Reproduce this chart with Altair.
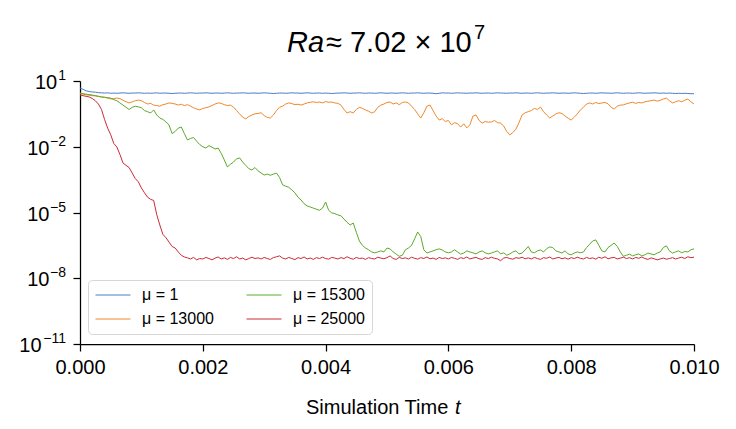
import altair as alt
import pandas as pd

FONT = "Liberation Sans"

# sampling times of the recorded energy history
t = [round(i * 0.00005, 5) for i in range(201)]

series_names = ["μ = 1", "μ = 13000", "μ = 15300", "μ = 25000"]
series_colors = ["#4a7cc8", "#f0882a", "#5aaa2a", "#cc2a36"]

x_ticks = [0.0, 0.002, 0.004, 0.006, 0.008, 0.010]
y_ticks = [1e1, 1e-2, 1e-5, 1e-8, 1e-11]
y_exponents = ["1", "−2", "−5", "−8", "−11"]

# log10 of the monitored quantity for each viscosity
log_mu1 = [
    0.68, 0.62, 0.55, 0.52, 0.50, 0.49, 0.47, 0.46, 0.45, 0.46, 0.44, 0.45, 0.44, 0.45, 0.46, 0.45, 0.44, 0.45, 0.45, 0.46,
    0.45, 0.44, 0.45, 0.44, 0.45, 0.46, 0.44, 0.45, 0.45, 0.44, 0.43, 0.44, 0.45, 0.45, 0.44, 0.45, 0.46, 0.45, 0.44, 0.45,
    0.45, 0.46, 0.45, 0.44, 0.45, 0.45, 0.44, 0.45, 0.46, 0.45, 0.44, 0.45, 0.45, 0.46, 0.45, 0.44, 0.45, 0.45, 0.44, 0.45,
    0.46, 0.45, 0.44, 0.43, 0.44, 0.45, 0.45, 0.44, 0.45, 0.46, 0.45, 0.45, 0.44, 0.45, 0.46, 0.45, 0.44, 0.45, 0.45, 0.44,
    0.45, 0.44, 0.43, 0.44, 0.45, 0.45, 0.46, 0.45, 0.44, 0.45, 0.45, 0.46, 0.45, 0.44, 0.45, 0.45, 0.44, 0.45, 0.46, 0.45,
    0.44, 0.45, 0.45, 0.44, 0.45, 0.46, 0.45, 0.44, 0.45, 0.45, 0.46, 0.45, 0.44, 0.45, 0.45, 0.44, 0.42, 0.44, 0.46, 0.45,
    0.45, 0.44, 0.45, 0.46, 0.45, 0.45, 0.44, 0.45, 0.45, 0.46, 0.45, 0.44, 0.45, 0.45, 0.44, 0.45, 0.46, 0.45, 0.45, 0.44,
    0.45, 0.45, 0.46, 0.45, 0.44, 0.45, 0.45, 0.44, 0.45, 0.46, 0.45, 0.44, 0.45, 0.45, 0.46, 0.45, 0.44, 0.45, 0.45, 0.44,
    0.45, 0.46, 0.45, 0.44, 0.43, 0.44, 0.45, 0.45, 0.44, 0.45, 0.46, 0.45, 0.45, 0.44, 0.45, 0.46, 0.45, 0.44, 0.45, 0.45,
    0.44, 0.45, 0.46, 0.45, 0.44, 0.45, 0.45, 0.46, 0.45, 0.44, 0.45, 0.44, 0.45, 0.44, 0.43, 0.44, 0.43, 0.44, 0.43, 0.42,
    0.42,
]

log_mu13000 = [
    0.42, 0.40, 0.37, 0.35, 0.33, 0.32, 0.30, 0.27, 0.25, 0.22,
    0.18, 0.20, 0.22, 0.20, 0.12, 0.05, 0.00, 0.05, 0.10, 0.13,
    0.10, 0.02, -0.05, -0.02, -0.10, -0.12, -0.15, -0.08, -0.05, 0.00,
    -0.02, -0.05, -0.10, -0.06, -0.12, -0.08, -0.15, -0.22, -0.28, -0.32,
    -0.25, -0.22, -0.18, -0.12, -0.05, 0.00, -0.02, -0.08, -0.12, -0.10,
    -0.19, -0.35, -0.50, -0.65, -0.73, -0.62, -0.55, -0.50, -0.48, -0.45,
    -0.58, -0.66, -0.69, -0.55, -0.35, -0.20, -0.15, -0.05, 0.00, -0.03,
    -0.08, -0.06, -0.10, -0.05, 0.00, 0.03, 0.05, 0.02, 0.04, 0.00,
    0.06, 0.03, 0.04, 0.00, -0.02, -0.10, -0.30, -0.46, -0.40, -0.46,
    -0.30, -0.20, -0.25, -0.32, -0.38, -0.46, -0.40, -0.20, -0.10, -0.05,
    0.02, 0.04, -0.05, 0.00, -0.08, 0.02, 0.04, 0.00, -0.15, -0.30,
    -0.50, -0.69, -0.45, -0.15, -0.10, -0.35, -0.60, -0.78, -0.72, -0.85,
    -0.80, -1.00, -0.90, -0.95, -1.10, -0.95, -1.14, -1.00, -0.60, -0.55,
    -0.80, -0.92, -0.85, -0.88, -0.87, -0.80, -0.90, -0.92, -1.05, -1.30,
    -1.46, -1.35, -1.20, -0.90, -0.55, -0.45, -0.40, -0.35, -0.25, -0.30,
    -0.19, -0.40, -0.55, -0.69, -0.60, -0.50, -0.45, -0.48, -0.60, -0.70,
    -0.78, -0.65, -0.50, -0.32, -0.20, -0.05, 0.00, -0.05, 0.02, -0.03,
    0.00, 0.02, -0.04, -0.20, -0.28, -0.15, -0.10, -0.09, -0.04, 0.00,
    0.03, -0.02, 0.02, 0.00, 0.05, 0.08, 0.10, 0.13, 0.08, 0.12,
    0.18, 0.22, 0.10, 0.00, 0.05, 0.10, 0.05, 0.12, 0.18, 0.05,
    -0.05,
]

log_mu15300 = [
    0.45, 0.42, 0.40, 0.38, 0.36, 0.33, 0.30, 0.27, 0.26, 0.24,
    0.22, 0.15, 0.10, 0.00, -0.10, -0.20, -0.30, -0.20, -0.15, -0.18,
    -0.22, -0.35, -0.40, -0.46, -0.32, -0.55, -0.69, -0.75, -0.87, -1.00,
    -1.40, -1.30, -1.15, -1.10, -1.40, -1.69, -1.62, -1.58, -1.75, -1.90,
    -2.00, -2.06, -1.95, -2.02, -2.10, -2.06, -2.30, -2.60, -2.92, -2.80,
    -2.70, -2.55, -2.51, -2.70, -2.85, -3.00, -3.06, -2.95, -3.10, -3.20,
    -3.29, -3.25, -3.30, -3.25, -3.20, -3.40, -3.74, -3.80, -3.85, -3.97,
    -4.10, -4.30, -4.43, -4.60, -4.70, -4.75, -4.80, -4.85, -4.90, -4.80,
    -4.52, -4.90, -5.02, -5.05, -5.11, -5.15, -5.30, -5.45, -5.57, -5.48,
    -5.90, -6.30, -6.50, -6.62, -6.70, -6.80, -6.84, -6.80, -6.75, -6.80,
    -6.62, -6.66, -6.80, -6.90, -7.00, -6.95, -6.70, -6.62, -6.50, -6.20,
    -5.89, -6.10, -6.70, -6.85, -6.80, -6.75, -6.70, -6.66, -6.71, -6.80,
    -6.84, -6.80, -6.70, -6.80, -6.90, -6.85, -6.75, -6.80, -6.84, -6.89,
    -6.80, -6.75, -6.84, -6.89, -6.85, -6.80, -6.75, -6.89, -6.84, -6.95,
    -6.89, -6.80, -6.75, -6.89, -6.85, -6.71, -6.55, -6.80, -6.84, -6.75,
    -6.71, -6.80, -6.65, -6.57, -6.60, -6.75, -6.80, -6.85, -6.75, -6.89,
    -6.93, -6.85, -6.80, -6.84, -6.80, -6.60, -6.45, -6.30, -6.25, -6.50,
    -6.75, -6.80, -6.60, -6.50, -6.39, -6.55, -6.80, -7.00, -6.95, -6.90,
    -6.98, -6.93, -6.89, -6.98, -6.93, -6.85, -6.89, -6.93, -6.85, -6.80,
    -6.60, -6.52, -6.75, -6.85, -6.80, -6.75, -6.84, -6.78, -6.80, -6.70,
    -6.66,
]

log_mu25000 = [
    0.36, 0.33, 0.30, 0.27, 0.20, 0.10, -0.05, -0.30, -0.75, -1.15,
    -1.45, -1.85, -2.01, -2.35, -2.74, -2.85, -2.95, -3.20, -3.45, -3.60,
    -3.88, -4.10, -4.30, -4.40, -4.45, -5.10, -5.57, -6.00, -6.15, -6.35,
    -6.55, -6.62, -6.80, -6.95, -7.03, -7.07, -7.12, -7.05, -7.16, -7.10,
    -7.12, -7.05, -7.10, -7.16, -7.08, -7.03, -7.12, -7.07, -7.14, -7.05,
    -7.10, -7.02, -7.12, -7.08, -7.16, -7.10, -7.04, -7.10, -7.07, -7.12,
    -7.05, -7.10, -7.14, -7.06, -7.02, -6.98, -7.08, -7.12, -7.05, -7.10,
    -7.15, -7.06, -7.10, -7.03, -7.12, -7.08, -7.14, -7.06, -7.10, -7.04,
    -7.10, -7.13, -7.05, -7.08, -7.12, -7.06, -7.10, -7.02, -7.09, -7.13,
    -7.05, -7.10, -7.08, -7.14, -7.06, -7.10, -7.12, -7.04, -7.08, -7.11,
    -7.06, -6.98, -7.10, -7.14, -7.05, -7.10, -7.07, -7.12, -7.04, -7.09,
    -7.13, -7.06, -7.10, -7.03, -7.11, -7.08, -7.14, -7.05, -7.10, -7.07,
    -7.12, -7.05, -7.09, -7.14, -7.06, -7.10, -7.03, -7.12, -7.08, -7.05,
    -7.11, -7.14, -7.06, -7.10, -7.04, -7.09, -7.12, -7.20, -7.08, -7.05,
    -7.10, -7.13, -7.06, -7.09, -7.04, -7.11, -7.07, -7.12, -7.05, -7.10,
    -7.14, -7.06, -7.09, -7.03, -7.12, -7.08, -7.05, -7.11, -7.07, -7.13,
    -7.06, -7.10, -7.04, -7.09, -7.12, -7.05, -7.10, -7.07, -7.13, -7.04,
    -7.09, -7.02, -7.11, -7.07, -7.05, -7.12, -7.08, -7.04, -7.10, -7.06,
    -7.12, -7.05, -7.09, -7.03, -7.10, -7.14, -7.07, -7.11, -7.16, -7.12,
    -7.08, -7.13, -7.10, -7.06, -7.12, -7.08, -7.04, -7.10, -7.02, -7.06,
    -7.04,
]

rows = []
for name, logs in zip(series_names, [log_mu1, log_mu13000, log_mu15300, log_mu25000]):
    for ti, lg in zip(t, logs):
        rows.append({"t": ti, "series": name, "lg": lg})
df = pd.DataFrame(rows)

y_scale = alt.Scale(type="log", domain=[1e-11, 10], nice=False)

lines = (
    alt.Chart(df)
    .transform_calculate(value="pow(10, datum.lg)")
    .mark_line(strokeWidth=1, clip=True)
    .encode(
        x=alt.X(
            "t:Q",
            scale=alt.Scale(domain=[0, 0.01], nice=False, zero=False),
            axis=alt.Axis(values=x_ticks, format=".3f", title=None, labelFlush=False,
                          labelPadding=6),
        ),
        y=alt.Y(
            "value:Q",
            scale=y_scale,
            axis=alt.Axis(values=y_ticks, labels=False, title=None),
        ),
        color=alt.Color(
            "series:N",
            scale=alt.Scale(domain=series_names, range=series_colors),
            legend=alt.Legend(
                title=None, orient="none", legendX=8, legendY=199, columns=2,
                symbolType="M-2.5,0H2.5", symbolSize=196, symbolOffset=10,
                symbolStrokeWidth=1, labelFontSize=16, labelFont=FONT,
                labelColor="black", labelOffset=21, columnPadding=30, rowPadding=8,
                padding=7, fillColor="white", strokeColor="#d6d6d6", cornerRadius=4,
            ),
        ),
    )
)

# y tick labels drawn as a base "10" with a raised exponent
tick_df = pd.DataFrame({"v": y_ticks, "exp": y_exponents})

y_exp_text = (
    alt.Chart(tick_df)
    .mark_text(font=FONT, fontSize=14, align="right", baseline="alphabetic",
               color="black", dy=-1)
    .encode(x=alt.value(-14), y=alt.Y("v:Q", scale=y_scale), text="exp:N")
)

y_base_text = (
    alt.Chart(tick_df)
    .transform_calculate(xp="-15 - 7.8 * length(datum.exp)")
    .mark_text(font=FONT, fontSize=20, align="right", baseline="alphabetic",
               color="black", dy=8, text="10")
    .encode(x=alt.X("xp:Q", scale=None), y=alt.Y("v:Q", scale=y_scale))
)

one = pd.DataFrame({"k": [0]})

title_ra = alt.Chart(one).mark_text(
    text="Ra", font=FONT, fontSize=29, fontStyle="italic", align="left",
    baseline="alphabetic", color="black",
).encode(x=alt.value(207), y=alt.value(-29))

title_rest = alt.Chart(one).mark_text(
    text="≈ 7.02 × 10", font=FONT, fontSize=29, align="left",
    baseline="alphabetic", color="black",
).encode(x=alt.value(246), y=alt.value(-29))

title_exp = alt.Chart(one).mark_text(
    text="7", font=FONT, fontSize=20, align="left",
    baseline="alphabetic", color="black",
).encode(x=alt.value(394), y=alt.value(-42))

xtitle_main = alt.Chart(one).mark_text(
    text="Simulation Time", font=FONT, fontSize=20, align="left",
    baseline="alphabetic", color="black",
).encode(x=alt.value(226), y=alt.value(333))

xtitle_var = alt.Chart(one).mark_text(
    text="t", font=FONT, fontSize=20, fontStyle="italic", align="left",
    baseline="alphabetic", color="black",
).encode(x=alt.value(375), y=alt.value(333))

chart = (
    alt.layer(lines, y_exp_text, y_base_text, title_ra, title_rest, title_exp,
              xtitle_main, xtitle_var)
    .properties(
        width=614, height=263,
        autosize=alt.AutoSizeParams(type="none"),
        padding={"left": 80, "top": 81, "right": 42, "bottom": 85},
        background="white",
    )
    .configure_view(stroke=None)
    .configure_axis(
        grid=False, domainColor="black", domainWidth=1.25, tickColor="black",
        tickWidth=1.25, tickSize=7, labelFont=FONT, labelFontSize=20,
        labelColor="black",
    )
)

chart.save("out.html", embed_options={"renderer": "svg", "actions": False})
